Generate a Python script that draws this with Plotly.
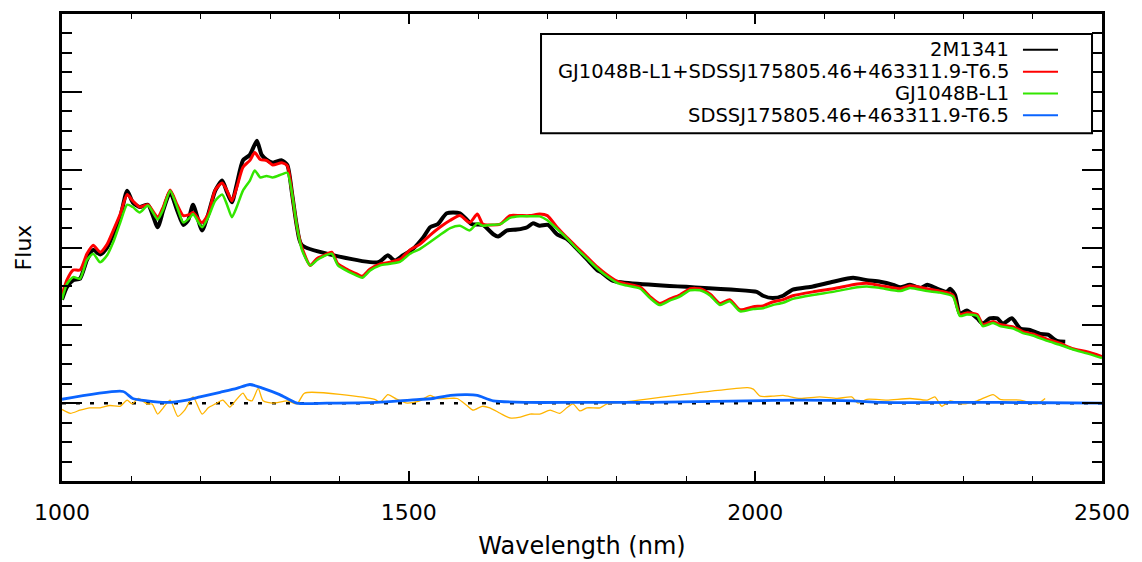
import plotly.graph_objects as go

# ---------------- data (wavelength in nm, flux in arbitrary units) ----------------
wl_obs = [1000, 1007, 1016, 1026, 1036, 1045, 1055, 1065, 1074, 1084, 1094, 1102, 1112, 1124,
          1138, 1146, 1156, 1166, 1175, 1182, 1189, 1202, 1211, 1221, 1231, 1238, 1245, 1252,
          1261, 1271, 1281, 1288, 1295, 1304, 1317, 1325, 1332, 1339, 1346,
          1456, 1470, 1480, 1492, 1506, 1521, 1531, 1542, 1555, 1574, 1591, 1607, 1622, 1629,
          1642, 1656, 1671, 1679, 1689, 1701, 1714, 1728, 1743, 1757, 1772, 1778, 1795,
          2002, 2011, 2025, 2040, 2054, 2083, 2112, 2141, 2161, 2180, 2199, 2209, 2223, 2238,
          2248, 2262, 2276, 2281, 2288, 2295, 2305, 2320, 2328, 2338, 2349, 2357, 2370, 2382,
          2396, 2411, 2422, 2435, 2447]
flux_obs = [1.33, 1.49, 1.58, 1.60, 1.84, 1.97, 1.91, 2.00, 2.17, 2.39, 2.73, 2.58, 2.52, 2.55,
            2.26, 2.48, 2.71, 2.48, 2.29, 2.35, 2.55, 2.22, 2.43, 2.73, 2.86, 2.71, 2.58, 2.81,
            3.12, 3.19, 3.37, 3.19, 3.13, 3.09, 3.12, 3.06, 2.68, 2.26, 2.03,
            1.81, 1.90, 1.83, 1.90, 1.98, 2.13, 2.26, 2.30, 2.44, 2.44, 2.30, 2.29, 2.17, 2.14,
            2.22, 2.23, 2.26, 2.31, 2.28, 2.29, 2.17, 2.11, 1.98, 1.85, 1.71, 1.68, 1.57,
            1.43, 1.38, 1.35, 1.38, 1.46, 1.50, 1.56, 1.61, 1.58, 1.56, 1.52, 1.49, 1.52, 1.48,
            1.52, 1.47, 1.43, 1.47, 1.39, 1.15, 1.19, 1.09, 1.02, 1.09, 1.09, 1.02, 1.09, 0.96,
            0.94, 0.89, 0.88, 0.80, 0.79]

wl_mod = [1000, 1007, 1016, 1026, 1036, 1045, 1055, 1065, 1074, 1084, 1094, 1102, 1112, 1124,
          1138, 1146, 1156, 1166, 1175, 1185, 1189, 1202, 1211, 1221, 1231, 1238, 1245, 1252,
          1261, 1271, 1278, 1286, 1295, 1304, 1317, 1325, 1332, 1339, 1346, 1358, 1368, 1376,
          1389, 1398, 1411, 1425, 1433, 1444, 1459, 1473, 1488, 1502, 1516, 1531, 1545, 1560,
          1574, 1588, 1599, 1607, 1617, 1632, 1646, 1661, 1675, 1689, 1700, 1714, 1728, 1743,
          1757, 1772, 1786, 1802, 1815, 1834, 1848, 1862, 1877, 1891, 1906, 1920, 1935, 1949,
          1963, 1978, 1997, 2011, 2025, 2040, 2054, 2083, 2112, 2147, 2161, 2180, 2209, 2223,
          2248, 2266, 2285, 2295, 2305, 2320, 2328, 2343, 2353, 2372, 2386, 2400, 2421, 2439,
          2458, 2478, 2500]
flux_sum = [1.39, 1.58, 1.71, 1.71, 1.92, 2.03, 1.94, 2.04, 2.22, 2.43, 2.68, 2.60, 2.52, 2.55,
            2.39, 2.52, 2.74, 2.55, 2.41, 2.43, 2.45, 2.32, 2.43, 2.74, 2.83, 2.73, 2.60, 2.77,
            3.03, 3.12, 3.22, 3.13, 3.12, 3.06, 3.09, 3.05, 2.68, 2.26, 2.00, 1.77, 1.86, 1.89,
            1.94, 1.79, 1.72, 1.66, 1.63, 1.72, 1.79, 1.81, 1.85, 1.97, 2.04, 2.16, 2.26, 2.35,
            2.41, 2.32, 2.43, 2.30, 2.29, 2.30, 2.41, 2.41, 2.41, 2.43, 2.41, 2.26, 2.13, 2.00,
            1.88, 1.75, 1.65, 1.56, 1.53, 1.49, 1.37, 1.28, 1.34, 1.39, 1.47, 1.47, 1.40, 1.28,
            1.33, 1.20, 1.24, 1.25, 1.30, 1.33, 1.38, 1.43, 1.47, 1.53, 1.54, 1.51, 1.47, 1.51,
            1.47, 1.44, 1.39, 1.14, 1.16, 1.14, 1.01, 1.05, 1.01, 0.98, 0.92, 0.89, 0.82, 0.77,
            0.70, 0.66, 0.60]
flux_l1 = [1.33, 1.53, 1.62, 1.60, 1.84, 1.92, 1.81, 1.90, 2.07, 2.32, 2.55, 2.52, 2.45, 2.54,
           2.36, 2.49, 2.73, 2.52, 2.32, 2.39, 2.43, 2.26, 2.39, 2.60, 2.68, 2.55, 2.39, 2.52,
           2.73, 2.86, 2.99, 2.90, 2.92, 2.90, 2.94, 2.96, 2.68, 2.26, 1.97, 1.77, 1.84, 1.88,
           1.92, 1.77, 1.70, 1.64, 1.61, 1.70, 1.77, 1.79, 1.82, 1.92, 1.98, 2.07, 2.16, 2.25,
           2.28, 2.22, 2.31, 2.28, 2.29, 2.30, 2.38, 2.40, 2.40, 2.40, 2.35, 2.24, 2.12, 1.98,
           1.86, 1.73, 1.63, 1.54, 1.51, 1.47, 1.35, 1.26, 1.32, 1.37, 1.45, 1.45, 1.38, 1.26,
           1.31, 1.18, 1.21, 1.22, 1.26, 1.29, 1.34, 1.39, 1.43, 1.49, 1.50, 1.48, 1.44, 1.48,
           1.44, 1.42, 1.37, 1.12, 1.14, 1.12, 0.99, 1.03, 0.99, 0.96, 0.90, 0.87, 0.80, 0.75,
           0.69, 0.64, 0.58]

wl_t65 = [1000, 1088, 1102, 1123, 1151, 1180, 1199, 1228, 1252, 1271, 1290, 1314, 1339, 1382,
          1454, 1502, 1535, 1560, 1584, 1599, 1622, 1671, 1747, 1848, 1988, 2064, 2141, 2180,
          2353, 2500]
flux_t65 = [0.05, 0.15, 0.06, 0.03, 0.01, 0.04, 0.08, 0.14, 0.19, 0.24, 0.19, 0.11, 0.00, 0.00,
            0.01, 0.04, 0.06, 0.10, 0.11, 0.10, 0.03, 0.01, 0.01, 0.01, 0.03, 0.04, 0.03, 0.01,
            0.01, 0.00]

wl_res = [1000, 1012, 1026, 1040, 1055, 1069, 1084, 1094, 1101, 1110, 1123, 1130, 1138, 1146,
          1156, 1167, 1177, 1189, 1202, 1211, 1221, 1232, 1242, 1250, 1261, 1267, 1274, 1283,
          1290, 1304, 1325, 1339, 1350, 1451, 1459, 1470, 1483, 1498, 1516, 1531, 1541, 1555,
          1570, 1584, 1593, 1606, 1617, 1632, 1646, 1661, 1675, 1689, 1704, 1718, 1728, 1737,
          1747, 1757, 1776, 1786, 1805, 1989, 1997, 2007, 2025, 2040, 2064, 2093, 2118, 2139,
          2148, 2161, 2190, 2223, 2248, 2259, 2269, 2281, 2300, 2320, 2343, 2353, 2382, 2406,
          2418]
flux_res = [-0.08, -0.13, -0.09, -0.06, -0.06, -0.03, -0.04, 0.04, -0.01, 0.06, -0.01, -0.01,
            -0.14, -0.06, 0.04, -0.17, -0.09, 0.08, -0.14, -0.06, -0.01, 0.04, -0.05, 0.03, 0.13,
            0.05, 0.03, 0.19, 0.03, 0.00, 0.03, -0.01, 0.13, 0.05, 0.01, 0.11, 0.05, 0.00, 0.03,
            0.10, 0.06, 0.06, 0.06, -0.03, -0.09, -0.04, -0.06, -0.13, -0.19, -0.18, -0.14, -0.14,
            -0.09, -0.13, -0.06, -0.01, -0.10, -0.06, -0.06, -0.01, 0.01, 0.20, 0.18, 0.09, 0.09,
            0.10, 0.06, 0.08, 0.06, 0.08, 0.00, 0.05, 0.04, 0.06, 0.04, 0.08, -0.04, 0.03, -0.01,
            0.03, 0.11, 0.05, 0.04, -0.01, 0.06]

zero_wl = [1000, 2500]
zero_flux = [0, 0]

legend_names = ["2M1341", "GJ1048B-L1+SDSSJ175805.46+463311.9-T6.5", "GJ1048B-L1",
                "SDSSJ175805.46+463311.9-T6.5"]
legend_colors = ["#000000", "#FF0000", "#33E600", "#0A64FF"]

x_tickvals = [1000, 1500, 2000, 2500]
x_ticktext = ["1000", "1500", "2000", "2500"]

# ---------------- figure ----------------
FONT = "DejaVu Sans"
SM = 0.6
fig = go.Figure()
fig.add_trace(go.Scatter(x=zero_wl, y=zero_flux, mode="lines",
                         line=dict(color="black", width=2.5, dash="4px,10px"), showlegend=False))
fig.add_trace(go.Scatter(x=wl_obs, y=flux_obs, mode="lines",
                         line=dict(color=legend_colors[0], width=4, shape="spline", smoothing=SM),
                         showlegend=False))
fig.add_trace(go.Scatter(x=wl_mod, y=flux_sum, mode="lines",
                         line=dict(color=legend_colors[1], width=3, shape="spline", smoothing=SM),
                         showlegend=False))
fig.add_trace(go.Scatter(x=wl_mod, y=flux_l1, mode="lines",
                         line=dict(color=legend_colors[2], width=2.5, shape="spline", smoothing=SM),
                         showlegend=False))
fig.add_trace(go.Scatter(x=wl_res, y=flux_res, mode="lines",
                         line=dict(color="#FFB400", width=1.3, shape="spline", smoothing=SM),
                         showlegend=False))
fig.add_trace(go.Scatter(x=wl_t65, y=flux_t65, mode="lines",
                         line=dict(color=legend_colors[3], width=2.8, shape="spline", smoothing=SM),
                         showlegend=False))

# manual legend (text right-aligned, line sample on the right, boxed)
shapes = [dict(type="rect", xref="paper", yref="paper", x0=0.4606, x1=0.9904, y0=0.7447,
               y1=0.9574, line=dict(color="black", width=2), fillcolor="white", layer="above")]
annotations = []
rows_y = [0.9234, 0.8766, 0.8298, 0.7830]
for name, col, yy in zip(legend_names, legend_colors, rows_y):
    annotations.append(dict(xref="paper", yref="paper", x=0.9125, y=yy, text=name,
                            showarrow=False, xanchor="right", yanchor="middle",
                            font=dict(family=FONT, size=19.5, color="black")))
    shapes.append(dict(type="line", xref="paper", yref="paper", x0=0.924, x1=0.9577,
                       y0=yy, y1=yy, line=dict(color=col, width=2), layer="above"))

# the page body adds an 8px offset; size/margins compensate so the plot area lands at
# x 62..1102, y 11..481 of the 1142x562 window
fig.update_layout(
    width=1134, height=554,
    margin=dict(l=54, r=40, t=3, b=81),
    paper_bgcolor="white", plot_bgcolor="white",
    font=dict(family=FONT, color="black"),
    shapes=shapes, annotations=annotations, showlegend=False,
)
fig.update_xaxes(
    range=[1000, 2500], showgrid=False, zeroline=False,
    showline=True, linecolor="black", linewidth=2.5, mirror="allticks",
    ticks="inside", ticklen=10, tickwidth=1.5, tickcolor="black",
    tickvals=x_tickvals, ticktext=x_ticktext, tickfont=dict(size=22, family=FONT),
    ticklabelstandoff=10,
    minor=dict(ticks="inside", ticklen=5, dtick=100, tickwidth=1.2, tickcolor="black"),
    title=dict(text="Wavelength (nm)", font=dict(size=24, family=FONT), standoff=14),
)
fig.update_yaxes(
    range=[-1, 5], showgrid=False, zeroline=False,
    showline=True, linecolor="black", linewidth=2.5, mirror="allticks",
    ticks="inside", ticklen=20, tickwidth=2, tickcolor="black", dtick=1, tick0=0,
    showticklabels=False,
    minor=dict(ticks="inside", ticklen=10, dtick=0.25, tickwidth=1.5, tickcolor="black"),
    title=dict(text="Flux", font=dict(size=22, family=FONT), standoff=22),
)

fig.write_html("out.html")
